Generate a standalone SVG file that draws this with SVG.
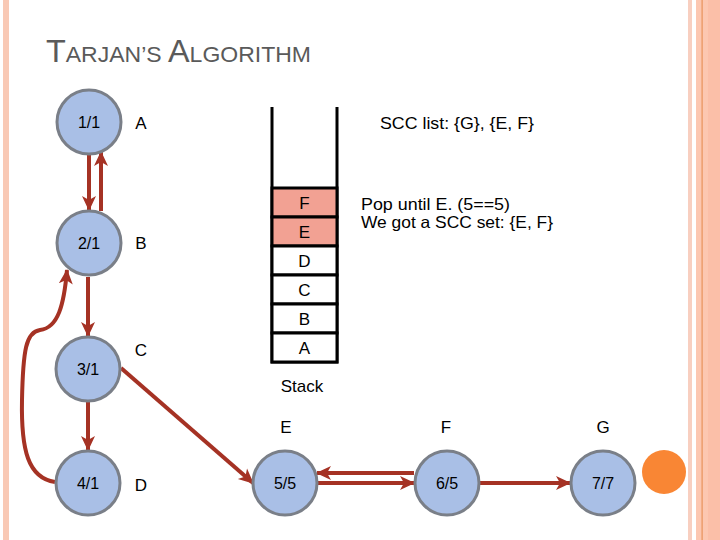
<svg xmlns="http://www.w3.org/2000/svg" width="720" height="540" viewBox="0 0 720 540">
<defs>
<style>
.t{font-family:"Liberation Sans",Arial,sans-serif;fill:#000}
.node circle{fill:#a9bfe6;stroke:#7a7f88;stroke-width:3}
.node text{font-size:16px;text-anchor:middle}
.lbl{font-size:17px;text-anchor:middle}
.edge{fill:none;stroke:#a53224;stroke-width:4;marker-end:url(#ah)}
.cell{stroke:#000;stroke-width:3}
</style>
<marker id="ah" markerUnits="userSpaceOnUse" markerWidth="16" markerHeight="16" viewBox="0 0 16 16" refX="14" refY="8" orient="auto">
<path d="M0,1 L15,8 L0,15 L4,8 Z" fill="#a53224"/>
</marker>
</defs>
<rect width="720" height="540" fill="#fff"/>
<g id="frame">
<rect x="3" y="0" width="6" height="540" fill="#f9c9b5"/>
<rect x="688" y="0" width="4" height="540" fill="#f8cfc0"/>
<rect x="696" y="0" width="24" height="540" fill="#fcc7b1"/>
<rect x="708" y="0" width="12" height="540" fill="#fbbfa8"/>
<rect x="701.5" y="0" width="1.2" height="540" fill="#e8935c"/>
</g>
<text class="t" x="46" y="62" style="fill:#5a5a5a" textLength="265" lengthAdjust="spacingAndGlyphs"><tspan font-size="31">T</tspan><tspan font-size="22">ARJAN’S </tspan><tspan font-size="31">A</tspan><tspan font-size="22">LGORITHM</tspan></text>
<g id="stack">
<polyline points="272,107 272,362 337,362 337,107" fill="none" stroke="#000" stroke-width="3"/>
<rect class="cell" x="272" y="188" width="65" height="29" fill="#f2a193"/>
<rect class="cell" x="272" y="217" width="65" height="29" fill="#f2a193"/>
<rect class="cell" x="272" y="246" width="65" height="29" fill="#fff"/>
<rect class="cell" x="272" y="275" width="65" height="29" fill="#fff"/>
<rect class="cell" x="272" y="304" width="65" height="29" fill="#fff"/>
<rect class="cell" x="272" y="333" width="65" height="29" fill="#fff"/>
<text class="t lbl" x="304.5" y="209">F</text>
<text class="t lbl" x="304.5" y="238">E</text>
<text class="t lbl" x="304.5" y="267">D</text>
<text class="t lbl" x="304.5" y="296">C</text>
<text class="t lbl" x="304.5" y="325">B</text>
<text class="t lbl" x="304.5" y="354">A</text>
<text class="t lbl" x="302" y="392">Stack</text>
</g>
<text class="t" x="380" y="129" font-size="17" textLength="154" lengthAdjust="spacingAndGlyphs">SCC list: {G}, {E, F}</text>
<text class="t" font-size="16.5"><tspan x="361" y="210" textLength="149" lengthAdjust="spacingAndGlyphs">Pop until E. (5==5)</tspan><tspan x="361" y="228" textLength="192" lengthAdjust="spacingAndGlyphs">We got a SCC set: {E, F}</tspan></text>
<g id="edges">
<line class="edge" x1="89" y1="155" x2="89" y2="210"/>
<line class="edge" x1="101" y1="211" x2="101" y2="152"/>
<line class="edge" x1="88" y1="277" x2="88" y2="336"/>
<line class="edge" x1="88" y1="402" x2="88" y2="450"/>
<path class="edge" d="M55,482 C28,478 21,450 22,400 C23,350 26,332 40,330 C58,328 64,305 67,270"/>
<line class="edge" x1="121" y1="368" x2="253" y2="483"/>
<line class="edge" x1="414" y1="473" x2="317" y2="473"/>
<line class="edge" x1="318" y1="483" x2="414" y2="483"/>
<line class="edge" x1="480" y1="483" x2="570" y2="483"/>
</g>
<g id="n1" class="node"><circle cx="89" cy="122" r="32"/><text class="t" x="89" y="128">1/1</text></g>
<g id="n2" class="node"><circle cx="89" cy="243" r="32"/><text class="t" x="89" y="249">2/1</text></g>
<g id="n3" class="node"><circle cx="88" cy="369" r="32"/><text class="t" x="88" y="375">3/1</text></g>
<g id="n4" class="node"><circle cx="88" cy="483" r="32"/><text class="t" x="88" y="489">4/1</text></g>
<g id="n5" class="node"><circle cx="285" cy="483" r="32"/><text class="t" x="285" y="489">5/5</text></g>
<g id="n6" class="node"><circle cx="447" cy="483" r="32"/><text class="t" x="447" y="489">6/5</text></g>
<g id="n7" class="node"><circle cx="603" cy="483" r="32"/><text class="t" x="603" y="489">7/7</text></g>
<g id="labels">
<text class="t lbl" x="141" y="129">A</text>
<text class="t lbl" x="141" y="249">B</text>
<text class="t lbl" x="141" y="356">C</text>
<text class="t lbl" x="141" y="491">D</text>
<text class="t lbl" x="286" y="433">E</text>
<text class="t lbl" x="446" y="433">F</text>
<text class="t lbl" x="603" y="433">G</text>
</g>
<circle id="marker-dot" cx="664" cy="472" r="22" fill="#f98634"/>
</svg>
